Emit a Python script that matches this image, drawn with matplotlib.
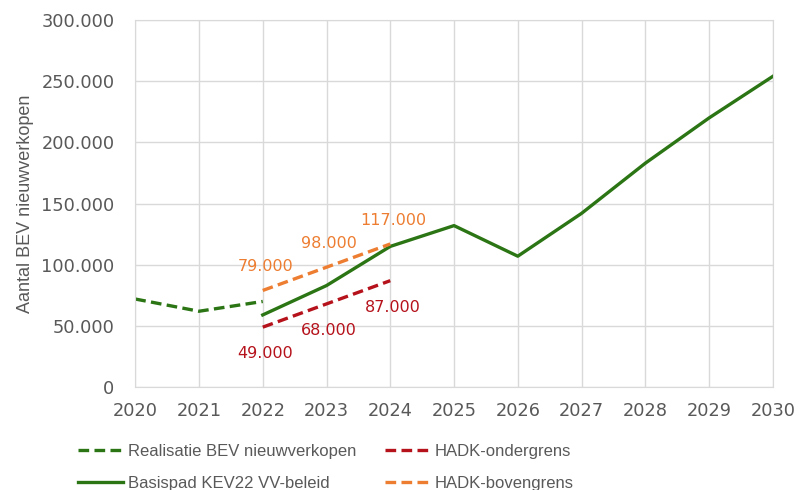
import numpy as np
import matplotlib.pyplot as plt
from matplotlib.ticker import FuncFormatter

# data
jaren_real = [2020, 2021, 2022]
realisatie = [72000, 62000, 70000]

jaren_basis = [2022, 2023, 2024, 2025, 2026, 2027, 2028, 2029, 2030]
basispad = [59000, 83000, 115000, 132000, 107000, 142000, 183000, 220000, 254000]

jaren_hadk = [2022, 2023, 2024]
hadk_onder = [49000, 68000, 87000]
hadk_boven = [79000, 98000, 117000]

GROEN = '#2b7514'
ROOD = '#b5121b'
ORANJE = '#ed7d31'
GRIJS = '#595959'

plt.rcParams['font.family'] = ['Liberation Sans', 'DejaVu Sans']
NUM_FONT = ['DejaVu Sans']

fig = plt.figure(figsize=(8.05, 4.9), dpi=100)
ax = fig.add_axes([0.168, 0.210, 0.792, 0.749])

dash = (0, (3.2, 1.6))
ax.plot(jaren_real, realisatie, color=GROEN, lw=2.4, linestyle=dash,
        label='Realisatie BEV nieuwverkopen')
ax.plot(jaren_basis, basispad, color=GROEN, lw=2.4,
        label='Basispad KEV22 VV-beleid')
ax.plot(jaren_hadk, hadk_onder, color=ROOD, lw=2.4, linestyle=dash,
        label='HADK-ondergrens')
ax.plot(jaren_hadk, hadk_boven, color=ORANJE, lw=2.4, linestyle=dash,
        label='HADK-bovengrens')

def fmt(v):
    return f'{v:,.0f}'.replace(',', '.')

# labels bij de HADK-lijnen
for x, y in zip(jaren_hadk, hadk_boven):
    ax.annotate(fmt(y), (x, y), xytext=(2, 17), textcoords='offset points',
                ha='center', va='center', color=ORANJE, fontsize=11.5,
                family=NUM_FONT)
for x, y in zip(jaren_hadk, hadk_onder):
    ax.annotate(fmt(y), (x, y), xytext=(2, -19), textcoords='offset points',
                ha='center', va='center', color=ROOD, fontsize=11.5,
                family=NUM_FONT)

ax.set_xlim(2020, 2030)
ax.set_ylim(0, 300000)
ax.set_xticks(range(2020, 2031))
ax.set_yticks(np.arange(0, 300001, 50000))
ax.yaxis.set_major_formatter(FuncFormatter(lambda v, p: fmt(v)))
ax.tick_params(length=0, colors=GRIJS)
ax.tick_params(axis='x', pad=11)
ax.tick_params(axis='y', pad=15)
for lbl in ax.get_xticklabels() + ax.get_yticklabels():
    lbl.set_family(NUM_FONT)
    lbl.set_fontsize(12.8)
ax.grid(True, color='#d9d9d9', lw=1)
for s in ax.spines.values():
    s.set_color('#d9d9d9')
ax.set_ylabel('Aantal BEV nieuwverkopen', color=GRIJS, fontsize=13, labelpad=5)

ax.legend(ncol=2, loc='upper left', bbox_to_anchor=(-0.089, -0.155),
          frameon=False, fontsize=12, labelcolor=GRIJS, handlelength=2.7,
          columnspacing=1.75, handletextpad=0.25, borderaxespad=0,
          borderpad=0, labelspacing=1.0)

fig.savefig('out.png', dpi=100)
